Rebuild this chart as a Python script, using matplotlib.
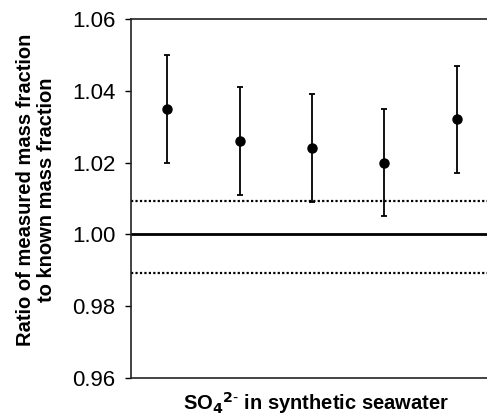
import matplotlib
matplotlib.use("Agg")
import matplotlib.pyplot as plt

positions = [1, 2, 3, 4, 5]
ratios = [1.035, 1.026, 1.024, 1.020, 1.032]
errors = [0.015, 0.015, 0.015, 0.015, 0.015]
upper_limit = 1.0093
lower_limit = 0.9891
yticks = [0.96, 0.98, 1.00, 1.02, 1.04, 1.06]

plt.rcParams['font.family'] = ['Liberation Sans', 'DejaVu Sans']

fig = plt.figure(figsize=(4.87, 4.18), dpi=100)
ax = fig.add_axes([0.269, 0.0964, 0.731, 0.858])

ax.axhline(1.0, color='black', lw=2.0)
ax.axhline(upper_limit, color='black', lw=1.6, linestyle=(0, (1, 1)))
ax.axhline(lower_limit, color='black', lw=1.6, linestyle=(0, (1, 1)))

ax.errorbar(positions, ratios, yerr=errors, fmt='o', color='black',
            markersize=6.5, elinewidth=1.3, capsize=2, capthick=1.3)

ax.set_ylim(0.96, 1.06)
ax.set_xlim(0.5, 5.42)
ax.set_yticks(yticks)
ax.set_yticklabels([f'{t:.2f}' for t in yticks])
ax.tick_params(axis='y', direction='out', length=4.3, width=1, labelsize=16, pad=7)
ax.tick_params(axis='x', bottom=False, labelbottom=False)

for side in ['left', 'top', 'bottom']:
    ax.spines[side].set_linewidth(1.2)
    ax.spines[side].set_color('#222222')
ax.spines['right'].set_visible(False)

ax.set_ylabel('Ratio of measured mass fraction\nto known mass fraction',
              fontsize=14.5, fontweight='bold', linespacing=1.15)
ax.yaxis.set_label_coords(-0.21, 0.525)

ax.set_xlabel(r'SO$_\mathbf{4}$$^\mathbf{2\text{-}}$ in synthetic seawater',
              fontsize=14.5, fontweight='bold')
ax.xaxis.set_label_coords(0.52, -0.035)

fig.savefig('out.png', dpi=100)
